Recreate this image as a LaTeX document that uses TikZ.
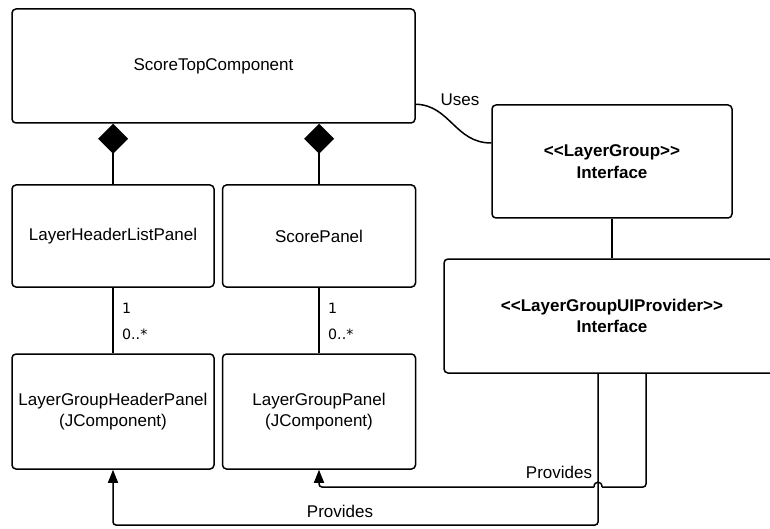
\documentclass[tikz,border=0pt]{standalone}
\usepackage{fontspec}
\setmainfont{Liberation Sans}
\newfontfamily\multfont{DejaVu Sans}
\usetikzlibrary{arrows.meta,calc}
\newcommand\dlt{<\kern0pt<}
\newcommand\dgt{>\kern0pt>}
\tikzset{
  box/.style={draw, line width=1.5pt, rounded corners=4pt, inner sep=0pt, align=center,
    font=\fontsize{17}{21.5}\selectfont},
  ibox/.style={box, font=\fontsize{17}{21.5}\selectfont\bfseries},
  conn/.style={line width=1.5pt},
  comp/.style={conn, -{Diamond[length=30pt,width=30pt,fill=black]}},
  prov/.style={conn, -{Triangle[length=13pt,width=10pt]}},
  mult/.style={anchor=west, inner sep=0pt, font=\multfont\fontsize{14.2}{16}\selectfont},
  lbl/.style={inner sep=0pt, font=\fontsize{17}{20}\selectfont}
}
\begin{document}
\begin{tikzpicture}[x=1pt,y=-1pt]
\fill[white] (0,0) rectangle (770,529);
\clip (0,0) rectangle (770,529);
% boxes
\node[box, minimum width=403pt, minimum height=114pt] (top) at (213.5,66) {ScoreTopComponent};
\node[box, minimum width=202pt, minimum height=102pt] (lhl) at (113,236) {LayerHeaderListPanel};
\node[box, minimum width=193pt, minimum height=102pt] (sp) at (319,236) {ScorePanel};
\node[box, minimum width=202pt, minimum height=115pt] (lghp) at (113,411.5) {LayerGroupHeaderPanel\\(JComponent)};
\node[box, minimum width=193pt, minimum height=115pt] (lgp) at (319,411.5) {LayerGroupPanel\\(JComponent)};
\node[ibox, minimum width=240pt, minimum height=113pt] (lg) at (612,161.5) {\dlt LayerGroup\dgt\\Interface};
\node[ibox, minimum width=336pt, minimum height=114pt] (uip) at (612,316) {\dlt LayerGroupUIProvider\dgt\\Interface};
% composition
\draw[comp] (lhl.north) -- (lhl.north |- top.south);
\draw[comp] (sp.north) -- (sp.north |- top.south);
% associations
\draw[conn] (lhl.south) -- (lghp.north);
\draw[conn] (sp.south) -- (lgp.north);
\node[mult] (m1) at (122,308) {1};
\node[mult] (m2) at (122,334) {0..*};
\node[mult] (m3) at (328,308) {1};
\node[mult] (m4) at (328,334) {0..*};
% uses
\draw[conn] (top.east |- lg.north) .. controls (450,105) and (455,143) .. ($(lg.west)+(0,-18.5)$);
\node[lbl] (uses) at (460,100) {Uses};
% interface link
\draw[conn] (lg.south) -- (uip.north);
% provides
\coordinate (p1) at ($(uip.south)+(34,0)$);
\coordinate (p2) at ($(uip.south)+(-14,0)$);
\draw[conn, rounded corners=3pt] (p1) -- (p1 |- 0,487) -- (602,487);
\draw[conn] (602,487) .. controls (602,480.5) and (594,480.5) .. (594,487);
\draw[prov, rounded corners=3pt] (594,487) -- (lgp.south |- 0,487) -- (lgp.south);
\draw[prov, rounded corners=3pt] (p2) -- (p2 |- 0,525) -- (lghp.south |- 0,525) -- (lghp.south);
\node[lbl] (pr1) at (559,472) {Provides};
\node[lbl] (pr2) at (340,511) {Provides};
\end{tikzpicture}
\end{document}
